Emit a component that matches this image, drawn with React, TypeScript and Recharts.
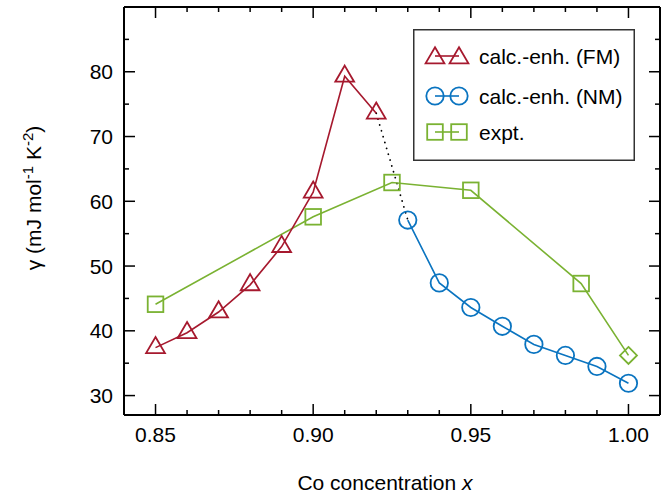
import React from 'react';
import { LineChart, Line, XAxis, YAxis, Legend } from 'recharts';

const FONT = '"Liberation Sans", Arial, Helvetica, sans-serif';

// Data
const fmX = [0.85, 0.86, 0.87, 0.88, 0.89, 0.9, 0.91, 0.92];
const fmY = [37.4, 39.7, 42.9, 47.1, 53.0, 61.4, 79.3, 73.6];
const nmX = [0.93, 0.94, 0.95, 0.96, 0.97, 0.98, 0.99, 1.0];
const nmY = [57.1, 47.4, 43.6, 40.7, 37.9, 36.2, 34.5, 31.9];
const exX = [0.85, 0.9, 0.925, 0.95, 0.985, 1.0];
const exY = [44.1, 57.6, 62.9, 61.7, 47.3, 36.2];
const exShapes = ['square', 'square', 'square', 'square', 'square', 'diamond'];
const linkX = [0.92, 0.93];
const linkY = [73.6, 57.1];

const seriesNames = ['calc.-enh. (FM)', 'calc.-enh. (NM)', 'expt.'];

const xTicks = [0.85, 0.86, 0.87, 0.88, 0.89, 0.9, 0.91, 0.92, 0.93, 0.94, 0.95, 0.96, 0.97, 0.98, 0.99, 1.0];
const xMajor = [0.85, 0.9, 0.95, 1.0];
const xMajorLabels = ['0.85', '0.90', '0.95', '1.00'];
const yTicks = [30, 35, 40, 45, 50, 55, 60, 65, 70, 75, 80, 85];
const yMajor = [30, 40, 50, 60, 70, 80];

const xTitle = 'Co concentration ';
const xTitleVar = 'x';

const RED = '#a6192e';
const BLUE = '#0a74c0';
const GREEN = '#7ab232';

const fmData = fmX.map((x, i) => ({ x, y: fmY[i] }));
const nmData = nmX.map((x, i) => ({ x, y: nmY[i] }));
const exData = exX.map((x, i) => ({ x, y: exY[i], shape: exShapes[i] }));
const linkData = linkX.map((x, i) => ({ x, y: linkY[i] }));

const near = (a: number, b: number) => Math.abs(a - b) < 1e-6;
const majorIdx = (arr: number[], v: number) => arr.findIndex((m) => near(m, v));

const triPath = (cx: number, cy: number) =>
  `M${cx},${cy - 10.7} L${cx + 9.4},${cy + 5.4} L${cx - 9.4},${cy + 5.4} Z`;

const TriDot = (p: any) => (
  <path key={`t-${p.index}`} d={triPath(p.cx, p.cy)} fill="none" stroke={RED} strokeWidth={1.8} strokeLinejoin="miter" />
);
const CircDot = (p: any) => (
  <circle key={`c-${p.index}`} cx={p.cx} cy={p.cy} r={8.7} fill="none" stroke={BLUE} strokeWidth={1.8} />
);
const SqDot = (p: any) => {
  const shape = p.payload && p.payload.shape;
  if (shape === 'diamond') {
    const d = 8.5;
    return (
      <path key={`s-${p.index}`} d={`M${p.cx},${p.cy - d} L${p.cx + d},${p.cy} L${p.cx},${p.cy + d} L${p.cx - d},${p.cy} Z`} fill="none" stroke={GREEN} strokeWidth={1.8} />
    );
  }
  return <rect key={`s-${p.index}`} x={p.cx - 7.8} y={p.cy - 7.8} width={15.6} height={15.6} fill="none" stroke={GREEN} strokeWidth={1.8} />;
};

const BottomTick = (p: any) => {
  const { x, y, payload } = p;
  const mi = majorIdx(xMajor, payload.value);
  const len = mi >= 0 ? 11 : 5;
  return (
    <g>
      <line x1={x} y1={y} x2={x} y2={y - len} stroke="#000" strokeWidth={1.5} />
      {mi >= 0 && (
        <text x={x} y={y + 27} textAnchor="middle" fontFamily={FONT} fontSize={21} fill="#000">
          {xMajorLabels[mi]}
        </text>
      )}
    </g>
  );
};
const TopTick = (p: any) => {
  const { x, y, payload } = p;
  const len = majorIdx(xMajor, payload.value) >= 0 ? 11 : 5;
  return <line x1={x} y1={y} x2={x} y2={y + len} stroke="#000" strokeWidth={1.5} />;
};
const LeftTick = (p: any) => {
  const { x, y, payload } = p;
  const mi = majorIdx(yMajor, payload.value);
  const len = mi >= 0 ? 11 : 5;
  return (
    <g>
      <line x1={x} y1={y} x2={x + len} y2={y} stroke="#000" strokeWidth={1.5} />
      {mi >= 0 && (
        <text x={x - 11} y={y} dy="0.36em" textAnchor="end" fontFamily={FONT} fontSize={21} fill="#000">
          {String(payload.value)}
        </text>
      )}
    </g>
  );
};
const RightTick = (p: any) => {
  const { x, y, payload } = p;
  const len = majorIdx(yMajor, payload.value) >= 0 ? 11 : 5;
  return <line x1={x} y1={y} x2={x - len} y2={y} stroke="#000" strokeWidth={1.5} />;
};

const XTitle = () => (
  <text x={385} y={490} textAnchor="middle" fontFamily={FONT} fontSize={21} fill="#000">
    {xTitle}
    <tspan fontStyle="italic">{xTitleVar}</tspan>
  </text>
);

const YTitle = () => (
  <text x={41} y={198} transform="rotate(-90, 41, 198)" textAnchor="middle" fontFamily={FONT} fontSize={21} fill="#000">
    {'γ (mJ mol'}
    <tspan dy={-8} fontSize={15}>-1</tspan>
    <tspan dy={8}>{' K'}</tspan>
    <tspan dy={-8} fontSize={15}>-2</tspan>
    <tspan dy={8}>)</tspan>
  </text>
);

const legendColors = [RED, BLUE, GREEN];

const LegendMarker = ({ kind, cx, cy, color }: { kind: number; cx: number; cy: number; color: string }) => {
  if (kind === 0) return <path d={triPath(cx, cy + 2)} fill="none" stroke={color} strokeWidth={1.8} />;
  if (kind === 1) return <circle cx={cx} cy={cy} r={8.7} fill="none" stroke={color} strokeWidth={1.8} />;
  return <rect x={cx - 7.8} y={cy - 7.8} width={15.6} height={15.6} fill="none" stroke={color} strokeWidth={1.8} />;
};

const LegendBox = () => {
  const rows = [27, 67, 103];
  return (
    <svg width={222} height={132} style={{ display: 'block' }}>
      <rect x={0.75} y={0.75} width={220.5} height={130.5} fill="#fff" stroke="#333" strokeWidth={1.5} />
      {seriesNames.map((name, i) => (
        <g key={name}>
          <line x1={22} y1={rows[i]} x2={46} y2={rows[i]} stroke={legendColors[i]} strokeWidth={1.6} />
          <LegendMarker kind={i} cx={22} cy={rows[i]} color={legendColors[i]} />
          <LegendMarker kind={i} cx={46} cy={rows[i]} color={legendColors[i]} />
          <text x={66} y={rows[i]} dy="0.36em" fontFamily={FONT} fontSize={21} fill="#000">
            {name}
          </text>
        </g>
      ))}
    </svg>
  );
};

export default function App() {
  return (
    <div style={{ position: 'absolute', left: 0, top: 0, width: 672, height: 496, background: '#fff' }}>
      <LineChart width={672} height={496} margin={{ top: 6, right: 11, left: 0, bottom: 0 }}>
        <XAxis
          xAxisId={0}
          type="number"
          dataKey="x"
          domain={[0.84, 1.01]}
          ticks={xTicks}
          interval={0}
          allowDataOverflow
          height={81}
          tickSize={0}
          tickMargin={0}
          tickLine={false}
          tick={<BottomTick />}
          axisLine={{ stroke: '#000', strokeWidth: 2 }}
          label={<XTitle />}
        />
        <XAxis
          xAxisId="top"
          orientation="top"
          type="number"
          dataKey="x"
          domain={[0.84, 1.01]}
          ticks={xTicks}
          interval={0}
          allowDataOverflow
          height={1}
          tickSize={0}
          tickMargin={0}
          tickLine={false}
          tick={<TopTick />}
          axisLine={{ stroke: '#000', strokeWidth: 2 }}
        />
        <YAxis
          yAxisId={0}
          type="number"
          domain={[27, 90]}
          ticks={yTicks}
          interval={0}
          allowDataOverflow
          width={124}
          tickSize={0}
          tickMargin={0}
          tickLine={false}
          tick={<LeftTick />}
          axisLine={{ stroke: '#000', strokeWidth: 2 }}
          label={<YTitle />}
        />
        <YAxis
          yAxisId="right"
          orientation="right"
          type="number"
          domain={[27, 90]}
          ticks={yTicks}
          interval={0}
          allowDataOverflow
          width={1}
          tickSize={0}
          tickMargin={0}
          tickLine={false}
          tick={<RightTick />}
          axisLine={{ stroke: '#000', strokeWidth: 2 }}
        />
        <Legend
          layout="vertical"
          align="center"
          verticalAlign="middle"
          wrapperStyle={{ position: 'absolute', left: 413, top: 29, width: 222, height: 132 }}
          content={() => <LegendBox />}
        />
        {/* invisible series binding the mirrored top/right frame axes */}
        <Line
          data={linkData}
          dataKey="y"
          xAxisId="top"
          yAxisId="right"
          stroke="none"
          strokeOpacity={0}
          dot={false}
          activeDot={false}
          isAnimationActive={false}
          legendType="none"
        />
        <Line
          data={linkData}
          dataKey="y"
          xAxisId={0}
          yAxisId={0}
          stroke="#000"
          strokeWidth={1.8}
          strokeDasharray="0.1 6"
          strokeLinecap="round"
          dot={false}
          activeDot={false}
          isAnimationActive={false}
          legendType="none"
        />
        <Line
          data={exData}
          dataKey="y"
          name={seriesNames[2]}
          xAxisId={0}
          yAxisId={0}
          stroke={GREEN}
          strokeWidth={1.6}
          dot={SqDot}
          activeDot={false}
          isAnimationActive={false}
        />
        <Line
          data={fmData}
          dataKey="y"
          name={seriesNames[0]}
          xAxisId={0}
          yAxisId={0}
          stroke={RED}
          strokeWidth={1.6}
          dot={TriDot}
          activeDot={false}
          isAnimationActive={false}
        />
        <Line
          data={nmData}
          dataKey="y"
          name={seriesNames[1]}
          xAxisId={0}
          yAxisId={0}
          stroke={BLUE}
          strokeWidth={1.6}
          dot={CircDot}
          activeDot={false}
          isAnimationActive={false}
        />
      </LineChart>
    </div>
  );
}
